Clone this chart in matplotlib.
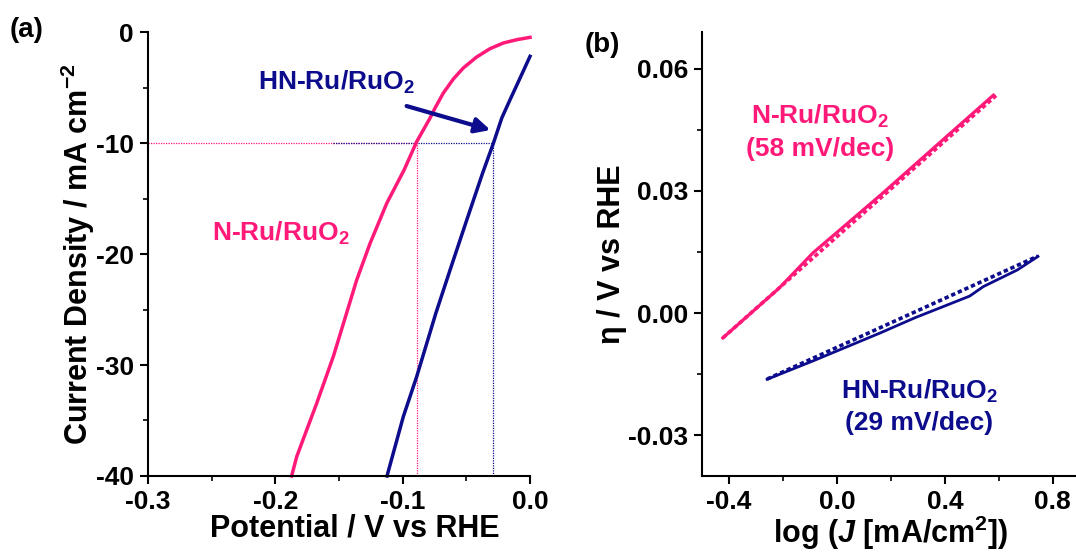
import numpy as np
import matplotlib.pyplot as plt
from matplotlib.ticker import MultipleLocator, FormatStrFormatter

plt.rcParams['font.family'] = ['Liberation Sans', 'DejaVu Sans']
plt.rcParams['font.weight'] = 'bold'
plt.rcParams['axes.unicode_minus'] = False
plt.rcParams['mathtext.fontset'] = 'custom'
plt.rcParams['mathtext.rm'] = 'Liberation Sans:bold'
plt.rcParams['mathtext.bf'] = 'Liberation Sans:bold'
plt.rcParams['mathtext.it'] = 'Liberation Sans:bold:italic'

PINK = '#ff1a7a'
NAVY = '#0c0c8c'

# (a) polarisation curves: potential (V vs RHE), current density (mA cm-2)
n_pot = [-0.1872, -0.1832, -0.1793, -0.1675, -0.1545, -0.1445, -0.1361, -0.1256,
         -0.1125, -0.0989, -0.0890, -0.0785, -0.0746, -0.0681, -0.0602, -0.0524,
         -0.0419, -0.0314, -0.0210, -0.0104, 0.0]
n_cur = [-40.0, -38.26, -37.06, -33.45, -29.25, -25.5, -22.34, -19.04,
         -15.43, -12.43, -9.88, -7.75, -6.85, -5.50, -4.23, -3.24,
         -2.25, -1.50, -0.99, -0.69, -0.48]
hn_pot = [-0.1123, -0.0995, -0.0890, -0.0740, -0.0628, -0.0497, -0.0373, -0.0288,
          -0.0222, -0.0157, -0.0078, 0.0]
hn_cur = [-40.0, -34.65, -31.05, -25.35, -21.44, -16.94, -12.73, -10.03,
          -7.75, -6.10, -4.14, -2.19]
n_eta10 = -0.0887
hn_eta10 = -0.0290
j_ref = -10

# (b) Tafel plots: log J, overpotential (V)
n_logj = [-0.4227, -0.2145, -0.0883, 0.0, 0.164, 0.290, 0.416, 0.580]
n_eta = [-0.0061, 0.0061, 0.0148, 0.0198, 0.0291, 0.0365, 0.0439, 0.0535]
hn_logj = [-0.2587, -0.0883, 0.038, 0.164, 0.290, 0.416, 0.492, 0.5426, 0.669, 0.745]
hn_eta = [-0.01626, -0.01174, -0.00826, -0.00478, -0.00113, 0.00217, 0.00417,
          0.0065, 0.0106, 0.0139]
n_fit_x = [-0.4227, 0.590]
n_fit_y = [-0.0061, 0.0534]
hn_fit_x = [-0.2587, 0.745]
hn_fit_y = [-0.0162, 0.0140]

fig = plt.figure(figsize=(10.76, 5.54), dpi=100)
ax1 = fig.add_axes([0.1375, 0.1408, 0.3551, 0.8014])
ax2 = fig.add_axes([0.6524, 0.1408, 0.3511, 0.8014])

for ax in (ax1, ax2):
    for s in ('top', 'right'):
        ax.spines[s].set_visible(False)
    for s in ('left', 'bottom'):
        ax.spines[s].set_linewidth(1.5)
    ax.tick_params(which='major', direction='out', length=6, width=1.5,
                   labelsize=19, pad=4)
    ax.tick_params(which='minor', direction='out', length=3.5, width=1.2)

# ---- panel (a)
dot = (0, (1, 1))
ax1.plot([-0.3, n_eta10], [j_ref, j_ref], color=PINK, lw=0.9, ls=dot)
ax1.plot([n_eta10, n_eta10], [-40, j_ref], color=PINK, lw=0.9, ls=dot)
ax1.plot([-0.155, hn_eta10], [j_ref, j_ref], color=NAVY, lw=0.9, ls=dot)
ax1.plot([hn_eta10, hn_eta10], [-40, j_ref], color=NAVY, lw=0.9, ls=dot)
ax1.plot(n_pot, n_cur, color=PINK, lw=2.5, clip_on=False, solid_joinstyle='round')
ax1.plot(hn_pot, hn_cur, color=NAVY, lw=2.5, clip_on=False, solid_joinstyle='round')
ax1.set_xlim(-0.3, 0.0)
ax1.set_ylim(-40, 0)
ax1.xaxis.set_major_locator(MultipleLocator(0.1))
ax1.xaxis.set_minor_locator(MultipleLocator(0.05))
ax1.yaxis.set_major_locator(MultipleLocator(10))
ax1.yaxis.set_minor_locator(MultipleLocator(5))
ax1.xaxis.set_major_formatter(FormatStrFormatter('%.1f'))
ax1.yaxis.set_major_formatter(FormatStrFormatter('%d'))
ax1.set_xlabel('Potential / V vs RHE', fontsize=22, fontweight='bold', labelpad=0)
ax1.xaxis.set_label_coords(0.542, -0.085)
ax1.set_ylabel('Current Density / mA cm$^{-2}$', fontsize=22, fontweight='bold',
               labelpad=-1)
ax1.text(-0.2136, -4.5, 'HN-Ru/RuO$_2$', color=NAVY, fontsize=19,
         fontweight='bold', ha='left', va='center')
ax1.text(-0.2497, -18.1, 'N-Ru/RuO$_2$', color=PINK, fontsize=19,
         fontweight='bold', ha='left', va='center')
ax1.annotate('', xy=(-0.029, -8.9), xytext=(-0.099, -6.6),
             arrowprops=dict(arrowstyle='-|>,head_length=0.9,head_width=0.45',
                             color=NAVY, lw=3))

# ---- panel (b)
ax2.plot(n_logj, n_eta, color=PINK, lw=2.3)
ax2.plot(n_fit_x, n_fit_y, color=PINK, lw=2.6, ls=(0, (1.2, 0.8)))
ax2.plot(hn_logj, hn_eta, color=NAVY, lw=2.0)
ax2.plot(hn_fit_x, hn_fit_y, color=NAVY, lw=2.6, ls=(0, (1.2, 0.8)))
ax2.set_xlim(-0.5, 0.9)
ax2.set_ylim(-0.04, 0.069)
ax2.xaxis.set_major_locator(MultipleLocator(0.4))
ax2.xaxis.set_minor_locator(MultipleLocator(0.2))
ax2.yaxis.set_major_locator(MultipleLocator(0.03))
ax2.yaxis.set_minor_locator(MultipleLocator(0.015))
ax2.xaxis.set_major_formatter(FormatStrFormatter('%.1f'))
ax2.yaxis.set_major_formatter(FormatStrFormatter('%.2f'))
ax2.set_xlabel('log ($J$ [mA/cm$^2$])', fontsize=22, fontweight='bold', labelpad=0)
ax2.set_ylabel('η / V vs RHE', fontsize=22, fontweight='bold', labelpad=1)
ax2.text(-0.063, 0.0482, 'N-Ru/RuO$_2$', color=PINK, fontsize=19,
         fontweight='bold', ha='center', va='center')
ax2.text(-0.063, 0.0403, '(58 mV/dec)', color=PINK, fontsize=19,
         fontweight='bold', ha='center', va='center')
ax2.text(0.304, -0.0192, 'HN-Ru/RuO$_2$', color=NAVY, fontsize=19,
         fontweight='bold', ha='center', va='center')
ax2.text(0.304, -0.0270, '(29 mV/dec)', color=NAVY, fontsize=19,
         fontweight='bold', ha='center', va='center')

for ax in (ax1, ax2):
    for lab in ax.get_xticklabels() + ax.get_yticklabels():
        lab.set_fontweight('bold')

fig.text(0.009, 0.945, '(a)', fontsize=20, fontweight='bold', va='center')
fig.text(0.543, 0.918, '(b)', fontsize=20, fontweight='bold', va='center')

fig.savefig('out.png', dpi=100)
